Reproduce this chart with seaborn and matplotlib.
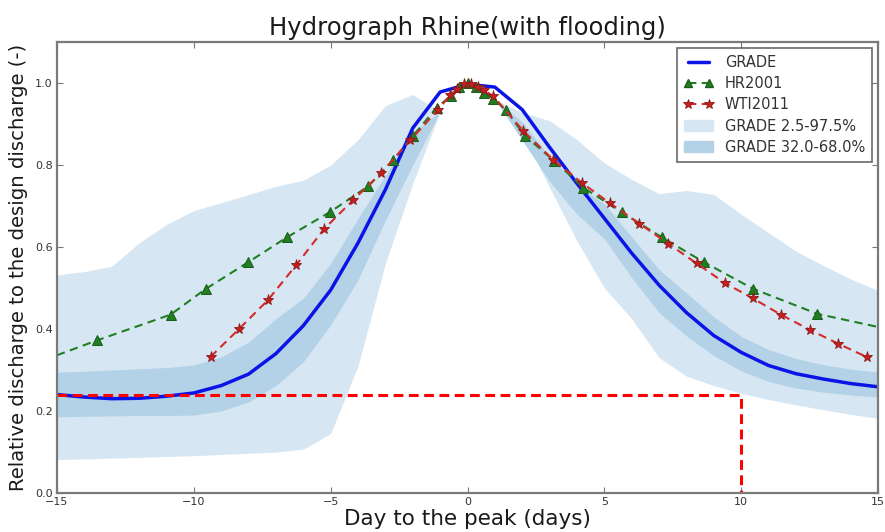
import matplotlib
matplotlib.use("Agg")
import matplotlib.pyplot as plt
import seaborn as sns
from matplotlib.lines import Line2D
from matplotlib.patches import Patch

# ---------------- data ----------------
days = list(range(-15, 16))

grade = [0.240, 0.234, 0.230, 0.231, 0.236, 0.244, 0.262, 0.290, 0.340, 0.408,
         0.495, 0.610, 0.740, 0.890, 0.978, 0.997, 0.990, 0.935, 0.843, 0.755,
         0.670, 0.585, 0.507, 0.440, 0.384, 0.343, 0.311, 0.291, 0.278, 0.267, 0.259]

# GRADE 2.5 - 97.5 %
grade_hi95 = [0.532, 0.540, 0.553, 0.610, 0.655, 0.689, 0.708, 0.728, 0.748, 0.763,
              0.800, 0.862, 0.945, 0.972, 0.930, 1.000, 0.960, 0.928, 0.908, 0.862,
              0.805, 0.765, 0.730, 0.738, 0.728, 0.680, 0.635, 0.590, 0.555, 0.522, 0.494]
grade_lo95 = [0.082, 0.083, 0.085, 0.087, 0.089, 0.091, 0.094, 0.097, 0.100, 0.107,
              0.145, 0.310, 0.560, 0.755, 0.930, 1.000, 0.960, 0.880, 0.745, 0.615,
              0.500, 0.425, 0.330, 0.285, 0.262, 0.243, 0.228, 0.215, 0.203, 0.192, 0.182]

# GRADE 32 - 68 %
grade_hi68 = [0.295, 0.297, 0.300, 0.303, 0.306, 0.312, 0.332, 0.368, 0.425, 0.475,
              0.560, 0.670, 0.775, 0.880, 0.930, 1.000, 0.960, 0.905, 0.820, 0.752,
              0.705, 0.625, 0.545, 0.488, 0.430, 0.382, 0.350, 0.328, 0.313, 0.302, 0.295]
grade_lo68 = [0.186, 0.187, 0.188, 0.189, 0.189, 0.190, 0.200, 0.222, 0.262, 0.320,
              0.410, 0.520, 0.665, 0.800, 0.930, 1.000, 0.960, 0.860, 0.760, 0.680,
              0.620, 0.525, 0.440, 0.383, 0.335, 0.298, 0.272, 0.256, 0.246, 0.239, 0.234]

hr_days = [-15, -13.55, -10.85, -9.56, -8.01, -6.59, -5.03, -3.63, -2.72, -1.99,
           -1.13, -0.62, -0.3, 0.0, 0.3, 0.62, 0.95, 1.4, 2.1, 3.17,
           4.23, 5.63, 7.09, 8.64, 10.44, 12.78, 15]
hr2001 = [0.336, 0.372, 0.435, 0.498, 0.563, 0.624, 0.685, 0.748, 0.812, 0.871,
          0.940, 0.968, 0.990, 1.000, 0.990, 0.975, 0.962, 0.934, 0.871, 0.810,
          0.745, 0.685, 0.624, 0.563, 0.498, 0.437, 0.405]

wti_days = [-9.39, -8.35, -7.30, -6.27, -5.24, -4.17, -3.16, -2.10, -1.07, -0.64,
            -0.39, -0.12, 0.12, 0.38, 0.62, 0.94, 2.04, 3.13, 4.17, 5.20,
            6.28, 7.34, 8.37, 9.41, 10.42, 11.45, 12.51, 13.55, 14.58]
wti2011 = [0.332, 0.400, 0.470, 0.555, 0.644, 0.715, 0.780, 0.860, 0.935, 0.970,
           0.985, 0.997, 0.998, 0.990, 0.982, 0.968, 0.883, 0.813, 0.757, 0.707,
           0.657, 0.608, 0.560, 0.512, 0.475, 0.435, 0.398, 0.364, 0.332]

FLOOD_LEVEL = 0.24
FLOOD_END = 10

# ---------------- style ----------------
LIGHT = "#d6e7f3"
DARK = "#b4d2e7"
BLUE = "#0a14e6"
GREEN = "#217f21"
RED = "#d42a2a"

sns.set_style("ticks")
plt.rcParams["font.family"] = ["DejaVu Sans"]

fig = plt.figure(figsize=(8.85, 5.32), dpi=100)
ax = fig.add_axes([57 / 885, 39 / 532, 821 / 885, 451 / 532])

ax.fill_between(days, grade_lo95, grade_hi95, color=LIGHT, lw=0)
ax.fill_between(days, grade_lo68, grade_hi68, color=DARK, lw=0)

sns.lineplot(x=days, y=grade, color=BLUE, lw=2.5, ax=ax, sort=False, estimator=None)
sns.lineplot(x=hr_days, y=hr2001, color=GREEN, lw=1.5, linestyle=(0, (4, 2.6)),
             marker="^", markersize=7, markeredgecolor="#1b5e1b",
             markevery=list(range(1, len(hr_days) - 1)),
             ax=ax, sort=False, estimator=None)
sns.lineplot(x=wti_days, y=wti2011, color=RED, lw=1.5, linestyle=(0, (4, 2.6)),
             marker="*", markersize=8, markerfacecolor="#c81e1e",
             markeredgecolor="#8a1a1a", markeredgewidth=0.6,
             ax=ax, sort=False, estimator=None)

# flood threshold / duration
ax.plot([-15, FLOOD_END, FLOOD_END], [FLOOD_LEVEL, FLOOD_LEVEL, 0],
        color="#ff0000", lw=2.2, linestyle=(0, (3.2, 1.8)))

ax.set_xlim(-15, 15)
ax.set_ylim(0, 1.1)
ax.set_xticks([-15, -10, -5, 0, 5, 10, 15])
ax.set_yticks([0.0, 0.2, 0.4, 0.6, 0.8, 1.0])
ax.tick_params(direction="in", top=True, right=True, length=4, width=0.8,
               labelsize=8, labelcolor="#333333", color="#777777", pad=3)
for s in ax.spines.values():
    s.set_color("#7a7a7a")
    s.set_linewidth(1.6)

ax.set_title("Hydrograph Rhine(with flooding)", fontsize=17.5, color="#1a1a1a", pad=5)
ax.set_xlabel("Day to the peak (days)", fontsize=15.5, color="#1a1a1a", labelpad=1.5)
ax.set_ylabel("Relative discharge to the design discharge (-)", fontsize=14.1,
              color="#1a1a1a", labelpad=5)

handles = [
    Line2D([], [], color=BLUE, lw=2.5),
    Line2D([], [], color=GREEN, lw=1.5, linestyle=(0, (4, 2.6)), marker="^",
           markersize=6, markeredgecolor="#1b5e1b"),
    Line2D([], [], color=RED, lw=1.5, linestyle=(0, (4, 2.6)), marker="*",
           markersize=7, markerfacecolor="#c81e1e", markeredgecolor="#8a1a1a",
           markeredgewidth=0.6),
    Patch(facecolor=LIGHT, edgecolor=LIGHT),
    Patch(facecolor=DARK, edgecolor=DARK),
]
labels = ["GRADE", "HR2001", "WTI2011", "GRADE 2.5-97.5%", "GRADE 32.0-68.0%"]
leg = ax.legend(handles, labels, loc="upper right", bbox_to_anchor=(0.993, 0.987),
                borderaxespad=0, numpoints=2, fontsize=10.5, fancybox=False,
                frameon=True, labelspacing=0.42, handlelength=2.0, borderpad=0.5)
leg.get_frame().set_edgecolor("#444444")
leg.get_frame().set_linewidth(1.2)
for t in leg.get_texts():
    t.set_color("#333333")

fig.savefig("out.png", dpi=100)
